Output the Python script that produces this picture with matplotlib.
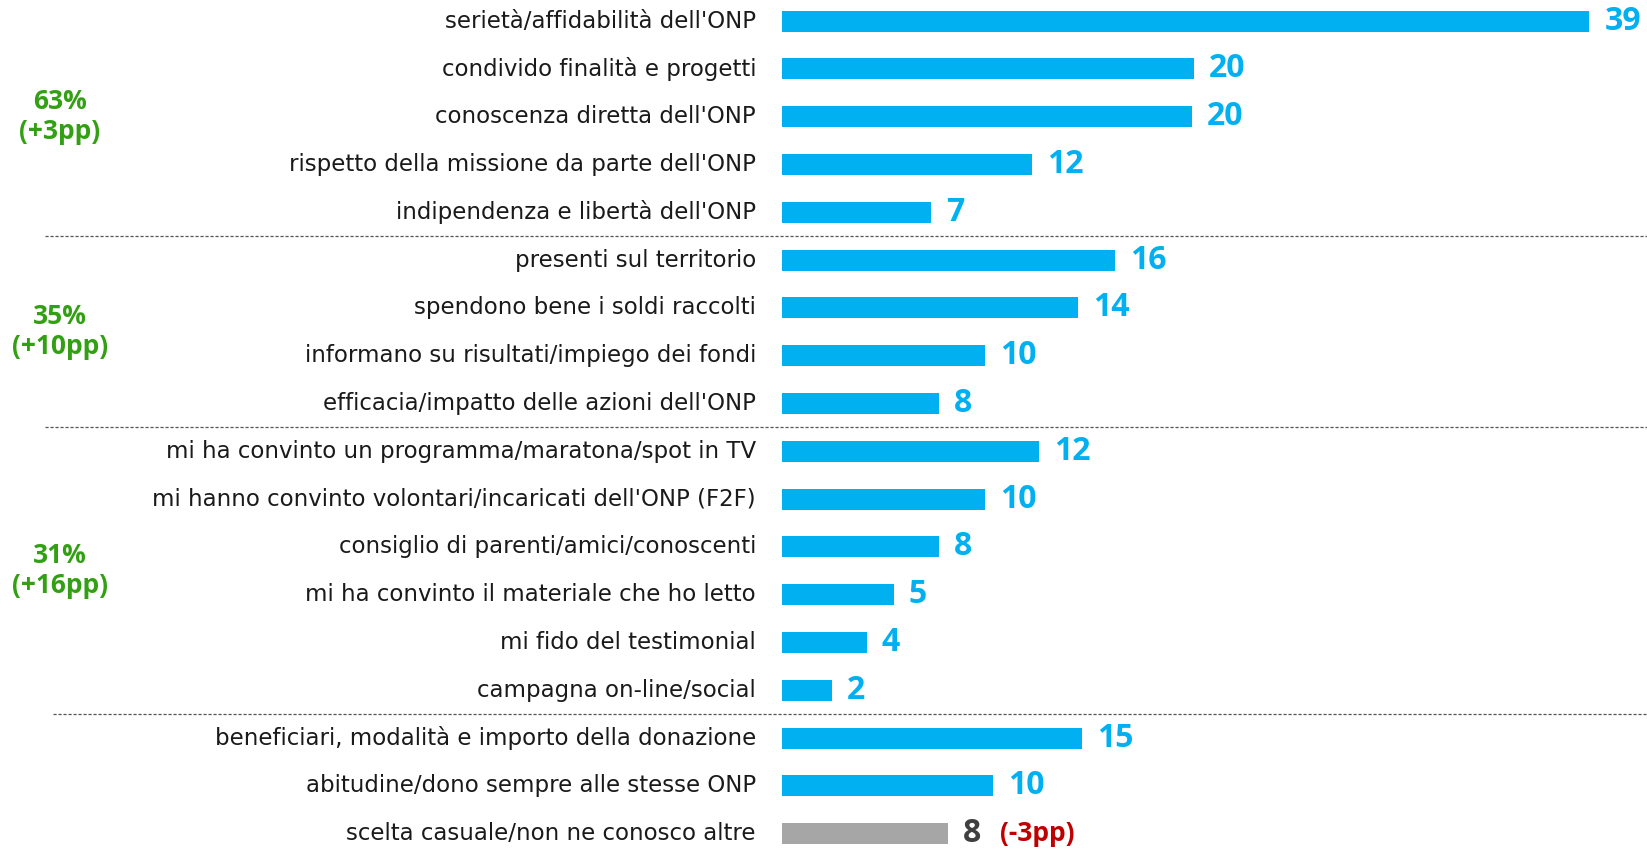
import matplotlib.pyplot as plt
from matplotlib.transforms import offset_copy

# categories, top to bottom
labels = [
    "serietà/affidabilità dell'ONP",
    "condivido finalità e progetti",
    "conoscenza diretta dell'ONP",
    "rispetto della missione da parte dell'ONP",
    "indipendenza e libertà dell'ONP",
    "presenti sul territorio",
    "spendono bene i soldi raccolti",
    "informano su risultati/impiego dei fondi",
    "efficacia/impatto delle azioni dell'ONP",
    "mi ha convinto un programma/maratona/spot in TV",
    "mi hanno convinto volontari/incaricati dell'ONP (F2F)",
    "consiglio di parenti/amici/conoscenti",
    "mi ha convinto il materiale che ho letto",
    "mi fido del testimonial",
    "campagna on-line/social",
    "beneficiari, modalità e importo della donazione",
    "abitudine/dono sempre alle stesse ONP",
    "scelta casuale/non ne conosco altre",
]
# bar lengths (unrounded)
values = [39.0, 19.9, 19.8, 12.1, 7.2, 16.1, 14.3, 9.8, 7.6,
          12.4, 9.8, 7.6, 5.4, 4.1, 2.4, 14.5, 10.2, 8.0]
# printed (rounded) values
shown = ["39", "20", "20", "12", "7", "16", "14", "10", "8",
         "12", "10", "8", "5", "4", "2", "15", "10", "8"]

# groups: (first row, last row), share, delta
group_rows = [(0, 4), (5, 8), (9, 14)]
group_share = ["63%", "35%", "31%"]
group_delta = ["(+3pp)", "(+10pp)", "(+16pp)"]
separators = [4.5, 8.5, 14.5]
last_delta = "(-3pp)"

BLUE = "#00B0F0"
GREY = "#A6A6A6"
GREEN = "#33A014"
RED = "#C00000"

plt.rcParams['font.family'] = ['Open Sans', 'DejaVu Sans']

fig = plt.figure(figsize=(16.47, 8.5), dpi=100)
ax = fig.add_axes([782 / 1647, 0, 865 / 1647, 1])

y = list(range(len(labels)))
colors = [BLUE] * (len(values) - 1) + [GREY]
ax.barh(y, values, height=0.44, color=colors)

ax.set_xlim(0, 865 / 20.7)
ax.set_ylim(-0.44 + 850 / 47.8, -0.44)
ax.axis('off')

# category labels, right aligned left of the bars
lab_tr = offset_copy(ax.transData, fig=fig, x=-26, y=0, units='dots')
for i, lab in enumerate(labels):
    ax.text(0, i, lab, transform=lab_tr, ha='right', va='center',
            fontsize=16.5, color='#1a1a1a', family='DejaVu Sans')

# value labels
val_tr = offset_copy(ax.transData, fig=fig, x=15, y=0, units='dots')
for i, (v, s) in enumerate(zip(values, shown)):
    c = '#404040' if i == len(values) - 1 else BLUE
    ax.text(v, i, s, transform=val_tr, ha='left', va='center',
            fontsize=23, fontweight='bold', color=c)

red_tr = offset_copy(ax.transData, fig=fig, x=52, y=0, units='dots')
ax.text(values[-1], len(values) - 1, last_delta, transform=red_tr,
        ha='left', va='center', fontsize=19, fontweight='bold', color=RED)

# dashed separators across the full width
sep_start = [45, 45, 53]
for s, x0 in zip(separators, sep_start):
    yf = 1 - (s + 0.44) * 47.8 / 850
    fig.add_artist(plt.Line2D([x0 / 1647, 1], [yf, yf], color='#555555',
                              lw=0.9, ls=(0, (2.5, 1.5))))

# group totals on the left
for (a, b), sh, d in zip(group_rows, group_share, group_delta):
    mid = (a + b) / 2
    yf = 1 - (mid + 0.44) * 47.8 / 850
    fig.text(60 / 1647, yf, sh + "\n" + d, ha='center', va='center',
             fontsize=19, fontweight='bold', color=GREEN, linespacing=1.15)

fig.savefig("out.png", dpi=100)
